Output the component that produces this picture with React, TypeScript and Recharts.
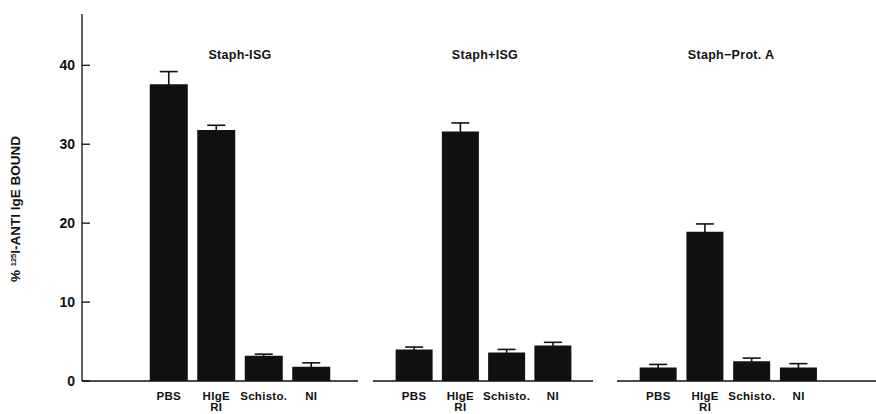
import { BarChart, Bar, XAxis, YAxis, ErrorBar } from 'recharts'

const categories = ['PBS', 'HIgE RI', 'Schisto.', 'NI']

const staphIsg = [37.6, 31.8, 3.2, 1.8]
const staphIsgErr = [1.6, 0.6, 0.2, 0.5]

const staphPlusIsg = [4.0, 31.6, 3.6, 4.5]
const staphPlusIsgErr = [0.3, 1.1, 0.4, 0.4]

const staphProtA = [1.7, 18.9, 2.5, 1.7]
const staphProtAErr = [0.4, 1.0, 0.4, 0.5]

const yTicks = [0, 10, 20, 30, 40]
const yMax = 46.5

const FONT = 'Arial, "Liberation Sans", Helvetica, sans-serif'
const INK = '#111'

const construirDatos = (valores: number[], errores: number[]) =>
  categories.map((c, i) => ({ nombre: c, valor: valores[i], error: errores[i] }))

function YTick({ x, y, payload }: any) {
  return (
    <g>
      <line x1={x} y1={y} x2={x + 8} y2={y} stroke={INK} strokeWidth={1.3} />
      <text x={x - 7} y={y} dy={5} textAnchor="end" fontSize={14} fontWeight="bold" fill={INK} fontFamily={FONT}>
        {payload.value}
      </text>
    </g>
  )
}

function XTick({ x, y, payload }: any) {
  const partes = String(payload.value).split(' ')
  return (
    <text x={x} y={y} textAnchor="middle" fontSize={11.5} fontWeight="bold" letterSpacing={0.3} fill={INK} fontFamily={FONT}>
      {partes.map((p, i) => (
        <tspan key={i} x={x} dy={i === 0 ? 11 : 10.5}>{p}</tspan>
      ))}
    </text>
  )
}

function YLabel() {
  return (
    <text
      transform="translate(20, 209) rotate(-90)"
      textAnchor="middle"
      fontSize={13.5}
      fontWeight="bold"
      fill={INK}
      fontFamily={FONT}
    >
      %{' '}
      <tspan fontSize={7.5} dy={-4}>125</tspan>
      <tspan dy={4}>I-ANTI IgE BOUND</tspan>
    </text>
  )
}

interface PanelProps {
  datos: { nombre: string; valor: number; error: number }[]
  left: number
  width: number
  padL: number
  padR: number
  conEjeY?: boolean
}

function Panel({ datos, left, width, padL, padR, conEjeY }: PanelProps) {
  return (
    <div style={{ position: 'absolute', left, top: 0 }}>
      <BarChart
        width={width}
        height={414}
        data={datos}
        margin={{ top: 14, right: 0, bottom: 0, left: 0 }}
        barCategoryGap="10%"
      >
        <XAxis
          dataKey="nombre"
          interval={0}
          tickLine={false}
          axisLine={{ stroke: INK, strokeWidth: 1.3 }}
          tick={<XTick />}
          padding={{ left: padL, right: padR }}
          height={33}
        />
        <YAxis
          domain={[0, yMax]}
          ticks={yTicks}
          hide={!conEjeY}
          width={conEjeY ? 82 : 0}
          tickSize={0}
          tickMargin={0}
          tickLine={false}
          axisLine={{ stroke: INK, strokeWidth: 1.3 }}
          tick={<YTick />}
          label={conEjeY ? <YLabel /> : undefined}
        />
        <Bar dataKey="valor" fill={INK} isAnimationActive={false}>
          <ErrorBar dataKey="error" width={9} stroke={INK} strokeWidth={1.6} direction="y" />
        </Bar>
      </BarChart>
    </div>
  )
}

const titulo = (texto: string, cx: number) => (
  <div
    style={{
      position: 'absolute',
      left: cx - 70,
      width: 140,
      top: 48,
      textAlign: 'center',
      fontFamily: FONT,
      fontWeight: 'bold',
      fontSize: 12.5,
      letterSpacing: 0.3,
      color: INK,
    }}
  >
    {texto}
  </div>
)

export default function App() {
  return (
    <div style={{ position: 'absolute', left: 0, top: 0, width: 876, height: 414, background: '#fff', overflow: 'hidden' }}>
      <Panel datos={construirDatos(staphIsg, staphIsgErr)} left={0} width={358} padL={63} padR={23} conEjeY />
      <Panel datos={construirDatos(staphPlusIsg, staphPlusIsgErr)} left={373} width={220} padL={18} padR={17} />
      <Panel datos={construirDatos(staphProtA, staphProtAErr)} left={617} width={259} padL={18} padR={54} />
      {titulo('Staph-ISG', 240)}
      {titulo('Staph+ISG', 485)}
      {titulo('Staph\u2212Prot. A', 731)}
    </div>
  )
}
